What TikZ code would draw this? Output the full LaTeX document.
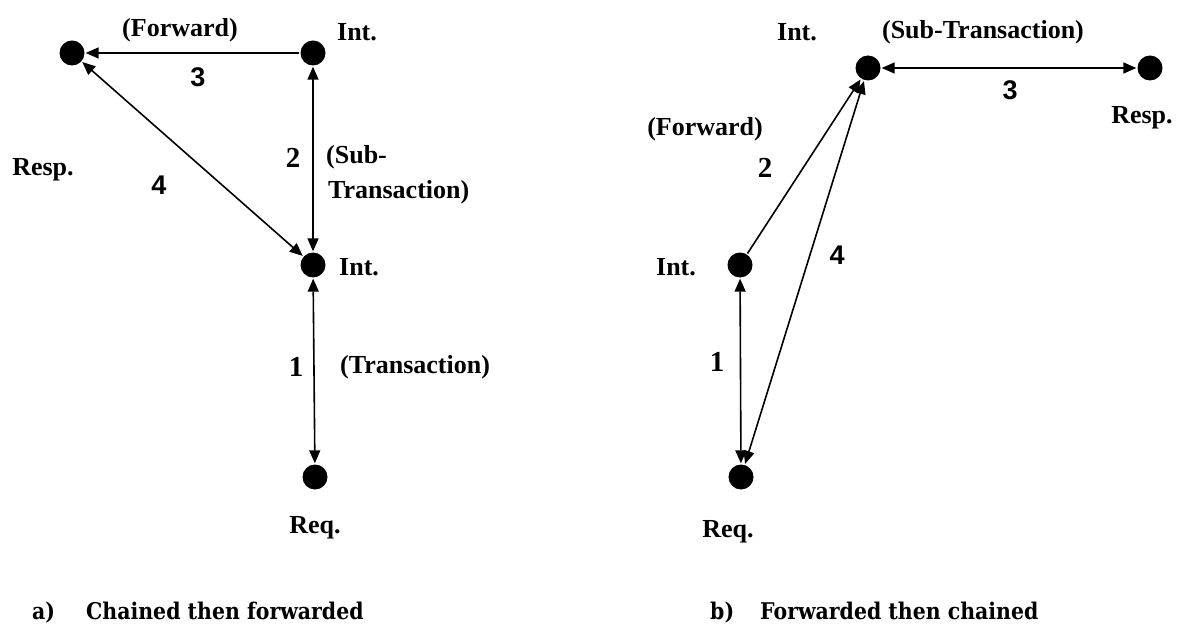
\documentclass[tikz,border=0pt]{standalone}
\usepackage{fontspec}
\usetikzlibrary{arrows.meta}
\newfontfamily\labfont{Liberation Serif}
\newfontfamily\numsans{Liberation Sans}
\newfontfamily\capfont[FakeStretch=0.89]{DejaVu Serif}
\begin{document}
\begin{tikzpicture}[x=1pt,y=-1pt,
  dot/.style={circle,fill=black,inner sep=0pt,minimum size=25pt},
  lab/.style={inner sep=0pt,font=\labfont\bfseries\fontsize{26}{30}\selectfont},
  numa/.style={inner sep=0pt,font=\numsans\bfseries\fontsize{27}{30}\selectfont},
  numb/.style={inner sep=0pt,font=\labfont\bfseries\fontsize{29}{30}\selectfont},
  captext/.style={inner sep=0pt,anchor=west,font=\capfont\bfseries\fontsize{23}{26}\selectfont},
  link/.style={line width=1.6pt,shorten <=1pt,shorten >=1pt},
  one/.style={link,-{Triangle[length=13pt,width=11pt]}},
  both/.style={link,{Triangle[length=13pt,width=11pt]}-{Triangle[length=13pt,width=11pt]}}]
\useasboundingbox (0,0) rectangle (1177,644);

% (a) chained then forwarded
\node[dot] (aresp) at (72,53) {};
\node[dot] (aint1) at (313,53) {};
\node[dot] (aint2) at (313,265) {};
\node[dot] (areq)  at (315,477) {};

\draw[one]  (aint1) -- (aresp);
\draw[both] (aint1) -- (aint2);
\draw[both] (aresp) -- (aint2);
\draw[both] (aint2) -- (areq);

\node[lab] (alfwd) at (180,30) {(Forward)};
\node[lab] (alint1) at (357,32) {Int.};
\node[numa] (aln3) at (198,77) {3};
\node[lab] (alresp) at (43,170) {Resp.};
\node[numa] (aln4) at (159,185) {4};
\node[numb] (aln2) at (293,158) {2};
\node[lab,anchor=west] (alsub) at (326,157) {(Sub-};
\node[lab,anchor=west] (altr) at (328,192) {Transaction)};
\node[lab,anchor=west] (alint2) at (339,267) {Int.};
\node[numb] (aln1) at (296,367) {1};
\node[lab,anchor=west] (altrans) at (340,367) {(Transaction)};
\node[lab] (alreq) at (315,528) {Req.};

\node[captext] (capa) at (32,613) {a)\hspace{31pt}Chained then forwarded};

% (b) forwarded then chained
\node[dot] (bint1) at (868,68) {};
\node[dot] (bresp) at (1150,68) {};
\node[dot] (bint2) at (740,265) {};
\node[dot] (breq)  at (741,477) {};

\draw[both] (bint1) -- (bresp);
\draw[one]  (bint2) -- (bint1);
\draw[both] (breq) -- (bint1);
\draw[both] (breq) -- (bint2);

\node[lab] (blint1) at (797,32) {Int.};
\node[lab] (blsub) at (983,32) {(Sub-Transaction)};
\node[numa] (bln3) at (1010,90) {3};
\node[lab] (blresp) at (1142,118) {Resp.};
\node[lab] (blfwd) at (705,129) {(Forward)};
\node[numb] (bln2) at (765,168) {2};
\node[numa] (bln4) at (837,255) {4};
\node[lab] (blint2) at (676,267) {Int.};
\node[numb] (bln1) at (717,362) {1};
\node[lab] (blreq) at (728,532) {Req.};

\node[captext] (capb) at (710,613) {b)\hspace{26pt}Forwarded then chained};
\end{tikzpicture}
\end{document}
